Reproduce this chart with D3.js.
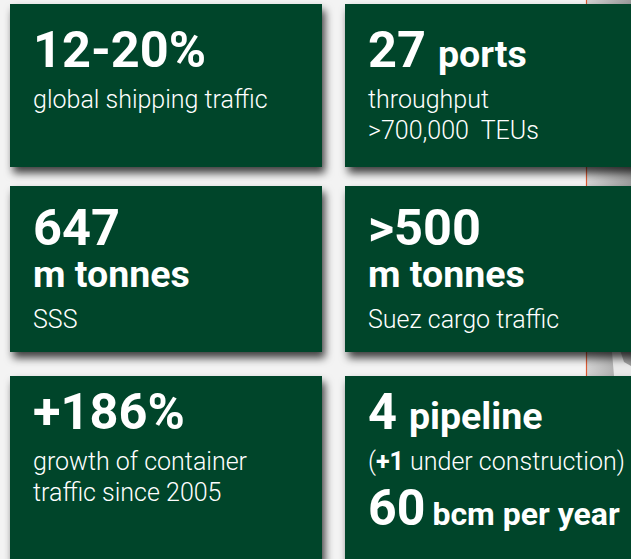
<!DOCTYPE html>
<html>
<head>
<meta charset="utf-8">
<script src="https://cdn.jsdelivr.net/npm/d3@7"></script>
<style>
  html, body { margin: 0; padding: 0; background: #f3f3f3; overflow: hidden; }
  svg { display: block; font-family: Roboto, "Open Sans", sans-serif; }
  text { white-space: pre; }
</style>
</head>
<body>
<div id="chart"></div>
<script>
// card contents, in reading order (left to right, top to bottom)
const headlines = ["12-20%", "27", "647", ">500", "+186%", "4"];
const headlineUnits = ["", "ports", "", "", "", "pipeline"];
const unitLines = ["", "", "m tonnes", "m tonnes", "", ""];
// caption lines; each line is a list of [text, bold] pieces
const captions = [
  [[["global shipping traffic", false]]],
  [[["throughput", false]], [[">700,000  TEUs", false]]],
  [[["SSS", false]]],
  [[["Suez cargo traffic", false]]],
  [[["growth of container", false]], [["traffic since 2005", false]]],
  [[["(", false], ["+1", true], [" under construction)", false]]]
];
const extraValues = ["", "", "", "", "", "60"];
const extraUnits = ["", "", "", "", "", "bcm per year"];

const width = 631, height = 559;
const green = "#03452a";

const svg = d3.select("#chart").append("svg")
  .attr("width", width)
  .attr("height", height);

const defs = svg.append("defs");
const shadow = defs.append("filter")
  .attr("id", "shadow")
  .attr("x", "-10%").attr("y", "-10%")
  .attr("width", "130%").attr("height", "140%");
shadow.append("feDropShadow")
  .attr("dx", 3).attr("dy", 6)
  .attr("stdDeviation", 4.5)
  .attr("flood-color", "#000")
  .attr("flood-opacity", 0.75);

const grey = defs.append("linearGradient")
  .attr("id", "grey")
  .attr("x1", 0).attr("x2", 1).attr("y1", 0).attr("y2", 0);
grey.append("stop").attr("offset", 0).attr("stop-color", "#d2d2d2");
grey.append("stop").attr("offset", 1).attr("stop-color", "#9c9c9c");

// backdrop: map strip on the right, separated by an orange rule
svg.append("rect")
  .attr("x", 587).attr("y", 0)
  .attr("width", width - 587).attr("height", height)
  .attr("fill", "url(#grey)");
svg.append("path")
  .attr("d", "M612,352 L620,350 L624,362 L631,366 L631,376 L614,376 Z")
  .attr("fill", "#e9e9e9");
svg.append("line")
  .attr("x1", 586.5).attr("x2", 586.5)
  .attr("y1", 0).attr("y2", height)
  .attr("stroke", "#dc5a33")
  .attr("stroke-width", 1.2);

// grid of cards
const colX = d3.scaleOrdinal().domain([0, 1]).range([10, 345]);
const rowTop = d3.scaleOrdinal().domain([0, 1, 2]).range([4, 186, 376]);
const rowBottom = d3.scaleOrdinal().domain([0, 1, 2]).range([167, 352, 580]);
const rowBase = d3.scaleOrdinal().domain([0, 1, 2]).range([67, 245, 429]);
const cardW = [312, 300];

const cards = d3.range(headlines.length).map(i => ({
  i, col: i % 2, row: Math.floor(i / 2)
}));

const card = svg.selectAll("g.card")
  .data(cards)
  .join("g")
  .attr("class", "card");

card.append("rect")
  .attr("x", d => colX(d.col))
  .attr("y", d => rowTop(d.row))
  .attr("width", d => cardW[d.col])
  .attr("height", d => rowBottom(d.row) - rowTop(d.row))
  .attr("fill", green)
  .attr("filter", "url(#shadow)");

const padX = 23;

card.each(function (d) {
  const g = d3.select(this);
  const x = colX(d.col) + padX;
  let y = rowBase(d.row);

  // headline figure with optional inline unit
  const h = g.append("text")
    .attr("x", x).attr("y", y)
    .attr("fill", "#fff")
    .attr("font-weight", 700);
  h.append("tspan")
    .attr("font-size", 50.5)
    .text(headlines[d.i]);
  if (headlineUnits[d.i]) {
    h.append("tspan")
      .attr("font-size", 37.5)
      .attr("dx", 12)
      .text(headlineUnits[d.i]);
  }

  if (unitLines[d.i]) {
    y += 42;
    g.append("text")
      .attr("x", x).attr("y", y)
      .attr("fill", "#fff")
      .attr("font-weight", 700)
      .attr("font-size", 37.5)
      .text(unitLines[d.i]);
  }

  captions[d.i].forEach((line, k) => {
    y += k === 0 ? 41 : 31;
    const t = g.append("text")
      .attr("x", x).attr("y", y)
      .attr("fill", "#fff")
      .attr("font-size", 25)
      .attr("font-weight", 300);
    t.selectAll("tspan")
      .data(line)
      .join("tspan")
      .attr("font-weight", p => p[1] ? 700 : 300)
      .text(p => p[0]);
  });

  if (extraValues[d.i]) {
    y += 55;
    const e = g.append("text")
      .attr("x", x).attr("y", y)
      .attr("fill", "#fff")
      .attr("font-weight", 700);
    e.append("tspan")
      .attr("font-size", 50)
      .text(extraValues[d.i]);
    e.append("tspan")
      .attr("font-size", 32)
      .attr("dx", 7)
      .text(extraUnits[d.i]);
  }
});
</script>
</body>
</html>
